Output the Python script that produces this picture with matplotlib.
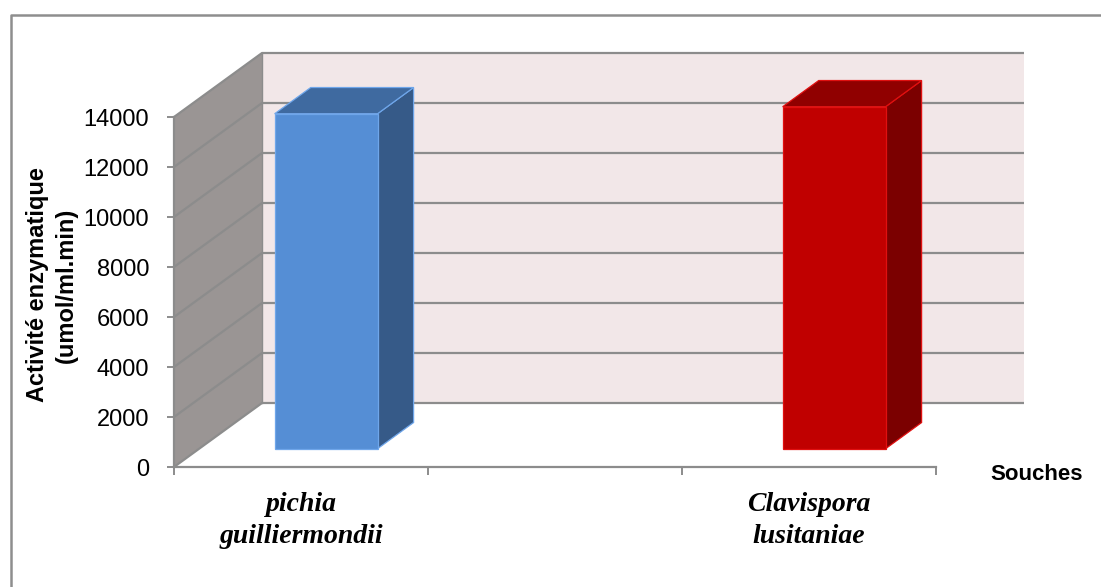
import numpy as np
import matplotlib
matplotlib.use("Agg")
import matplotlib.pyplot as plt
from matplotlib.patches import Polygon
from matplotlib.lines import Line2D

# ---- data ----
categories = ["pichia\nguilliermondii", "", "Clavispora\nlusitaniae"]
values = [13400, np.nan, 13680]
yticks = [0, 2000, 4000, 6000, 8000, 10000, 12000, 14000]
ylabel = "Activité enzymatique\n(umol/ml.min)"
xlabel = "Souches"

front_colors = ["#558ED5", None, "#C00000"]
top_colors = ["#3F6AA0", None, "#900000"]
side_colors = ["#365A88", None, "#7B0000"]
edge_colors = ["#6FA6EA", None, "#E01010"]

W, H = 1101, 587
fig = plt.figure(figsize=(W / 100, H / 100), dpi=100)

# front plane of the 3-D box in pixel terms
x0_px, x1_px = 174, 936
y0_px, y1_px = 467, 117
ax = fig.add_axes([x0_px / W, (H - y0_px) / H, (x1_px - x0_px) / W, (y0_px - y1_px) / H])
n = len(categories)
ymax = yticks[-1]
ax.set_xlim(0, n)
ax.set_ylim(0, ymax)
ax.patch.set_visible(False)

# depth offset of the box (data units)
DX = 88 / ((x1_px - x0_px) / n)
DY = 64 * ymax / (y0_px - y1_px)

grid_c = "#8C8C8C"
# side wall and back wall
ax.add_patch(Polygon([(0, 0), (DX, DY), (DX, ymax + DY), (0, ymax)],
                     closed=True, facecolor="#9A9594", edgecolor="none",
                     clip_on=False, zorder=1))
ax.add_patch(Polygon([(DX, DY), (n + DX, DY), (n + DX, ymax + DY), (DX, ymax + DY)],
                     closed=True, facecolor="#F2E7E8", edgecolor="none",
                     clip_on=False, zorder=1))
for v in yticks:
    ax.plot([0, DX, n + DX], [v, v + DY, v + DY], color=grid_c, lw=1.6,
            clip_on=False, zorder=2, solid_capstyle="butt")
ax.plot([DX, DX], [DY, ymax + DY], color=grid_c, lw=1.0, clip_on=False, zorder=2)

# 3-D bars
bw = 0.405
z0, z1 = 0.285, 0.695
for i, v in enumerate(values):
    if np.isnan(v):
        continue
    c = i + 0.5
    xl, xr = c - bw / 2, c + bw / 2
    ox0, oy0 = z0 * DX, z0 * DY
    ox1, oy1 = z1 * DX, z1 * DY
    ec = edge_colors[i]
    front = [(xl + ox0, oy0), (xr + ox0, oy0), (xr + ox0, v + oy0), (xl + ox0, v + oy0)]
    top = [(xl + ox0, v + oy0), (xr + ox0, v + oy0), (xr + ox1, v + oy1), (xl + ox1, v + oy1)]
    side = [(xr + ox0, oy0), (xr + ox1, oy1), (xr + ox1, v + oy1), (xr + ox0, v + oy0)]
    for poly, fc in ((side, side_colors[i]), (top, top_colors[i]), (front, front_colors[i])):
        ax.add_patch(Polygon(poly, closed=True, facecolor=fc, edgecolor=ec,
                             lw=0.9, clip_on=False, zorder=3))

# axes, ticks and labels
for s in ("top", "right"):
    ax.spines[s].set_visible(False)
for s in ("left", "bottom"):
    ax.spines[s].set_color(grid_c)
    ax.spines[s].set_linewidth(1.6)
    ax.spines[s].set_zorder(4)

ax.set_yticks(yticks)
ax.set_yticklabels([str(t) for t in yticks], fontsize=17, family="Liberation Sans")
ax.tick_params(axis="y", direction="out", length=5, width=1.4, color=grid_c, pad=13)

ax.set_xticks(np.arange(n + 1))
ax.set_xticklabels([])
ax.set_xticks(np.arange(n) + 0.5, minor=True)
ax.set_xticklabels(categories, minor=True, fontsize=20, family="Liberation Serif",
                   fontweight="bold", fontstyle="italic", linespacing=1.35)
ax.tick_params(axis="x", which="major", direction="out", length=6, width=1.4, color=grid_c)
ax.tick_params(axis="x", which="minor", length=0, pad=18)

fig.text(52 / W, 1 - 285 / H, ylabel, rotation=90, ha="center", va="center",
         multialignment="center", fontsize=17, fontweight="bold",
         family="Liberation Sans", linespacing=1.3)
fig.text(1037 / W, 1 - 475 / H, xlabel, ha="center", va="center",
         fontsize=16, fontweight="bold", family="Liberation Sans")

# chart frame
fig.add_artist(Line2D([11 / W, 11 / W, 1.0], [0.0, 1 - 15 / H, 1 - 15 / H],
                      transform=fig.transFigure, color="#8E8E8E", lw=1.8))

fig.savefig("out.png", dpi=100)
